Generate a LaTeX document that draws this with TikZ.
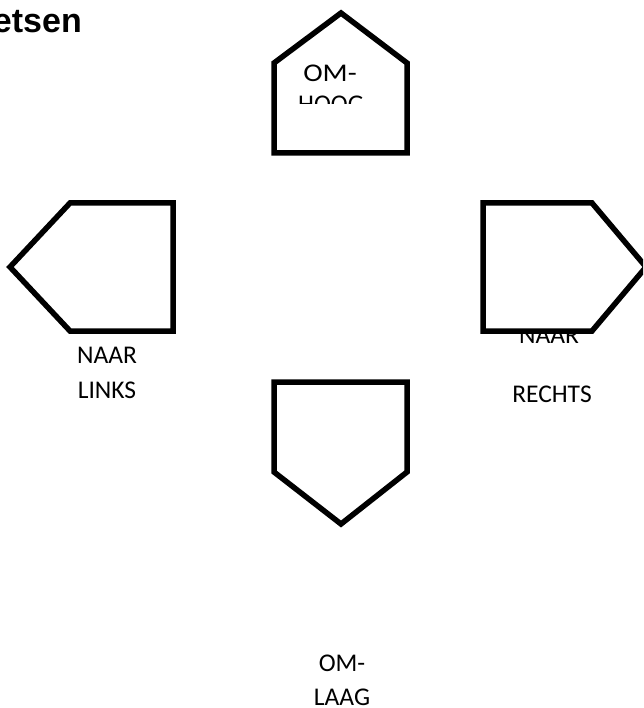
\documentclass[tikz,border=0pt]{standalone}
\usepackage{fontspec}
\setmainfont{Carlito}
\newfontfamily\titlefont{Liberation Sans}
\tikzset{
  arrowshape/.style={draw=black, line width=5.5pt, fill=white, miter limit=10},
  lbl/.style={inner sep=0pt, anchor=base, font=\fontsize{25.5}{30}\selectfont},
  ttl/.style={inner sep=0pt, anchor=base east, font=\titlefont\bfseries\fontsize{34}{40}\selectfont}
}
\begin{document}
\begin{tikzpicture}[x=1pt,y=-1pt]
\useasboundingbox (0,0) rectangle (643,708);
\clip (0,0) rectangle (643,708);
% text partly hidden under the right shape
\node[lbl] (naarR) at (549,343) {NAAR};
% shapes
\draw[arrowshape] (274,153) -- (274,63) -- (341,13) -- (407,63) -- (407,153) -- cycle;
\draw[arrowshape] (10,267) -- (70,203) -- (173,203) -- (173,331) -- (70,331) -- cycle;
\draw[arrowshape] (483,203) -- (592,203) -- (646,267) -- (592,331) -- (483,331) -- cycle;
\draw[arrowshape] (274,382) -- (407,382) -- (407,472) -- (341,524) -- (274,472) -- cycle;
% title
\node[ttl] (title) at (82,33) {etsen};
% labels
\node[lbl] (omU) at (330,82) {\scalebox{1.15}[1]{OM-}};
\begin{scope}
\clip (0,0) rectangle (643,104);
\node[lbl] (hoog) at (331,113) {HOOG};
\end{scope}
\node[lbl] (naarL) at (107,363) {NAAR};
\node[lbl] (links) at (107,398) {LINKS};
\node[lbl] (rechts) at (552,402) {RECHTS};
\node[lbl] (omD) at (342,671) {OM-};
\node[lbl] (laag) at (342,705) {LAAG};
\end{tikzpicture}
\end{document}
